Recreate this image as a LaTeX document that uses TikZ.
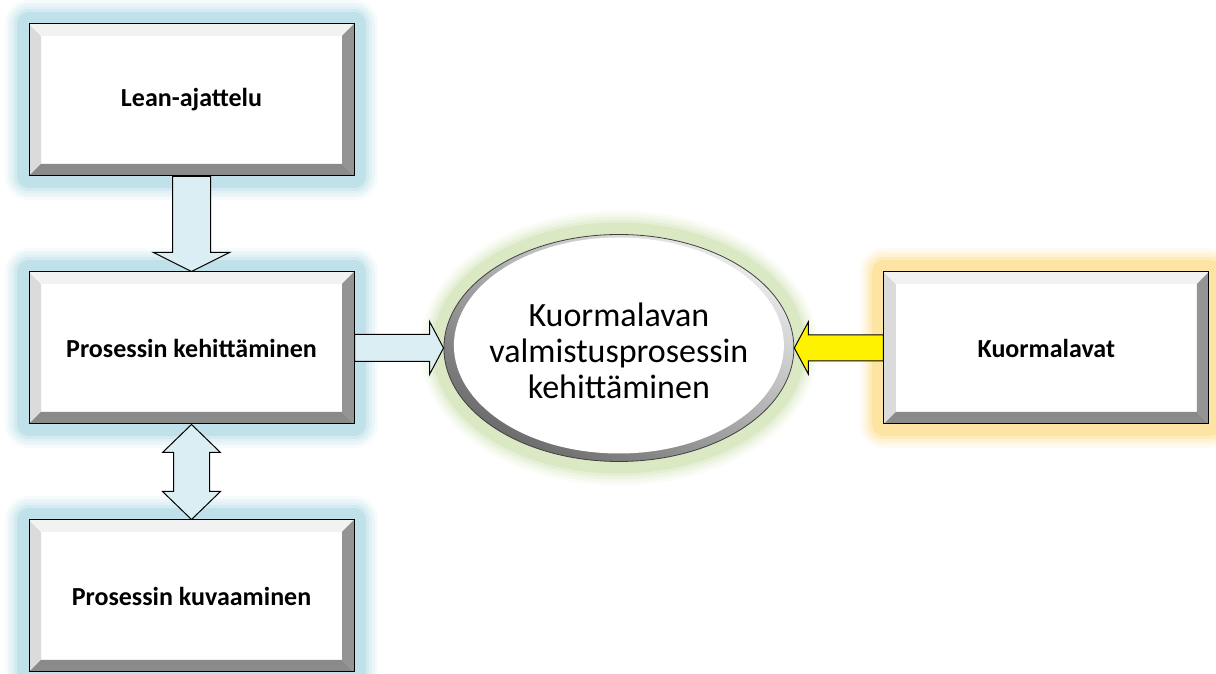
\documentclass[tikz,border=0pt]{standalone}
\usepackage{fontspec}
\setmainfont{Carlito}
\usetikzlibrary{positioning, shapes.geometric}

\definecolor{glowblue}{HTML}{B4DBE6}
\definecolor{glowgold}{HTML}{FDDF90}
\definecolor{glowgreen}{HTML}{D3E4B8}
\definecolor{arrowblue}{HTML}{DAEEF3}

\tikzstyle{glow} = [preaction={draw=#1, line width=48pt, opacity=.12, line join=round},
  preaction={draw=#1, line width=42pt, opacity=.15, line join=round},
  preaction={draw=#1, line width=36pt, opacity=.2, line join=round},
  preaction={draw=#1, line width=30pt, opacity=.3, line join=round},
  preaction={draw=#1, line width=24pt, opacity=.6, line join=round}]
\tikzstyle{bevel} = [rectangle, draw=black, fill=white, line width=1pt, minimum width=325pt, minimum height=152pt,
  font=\fontsize{26}{31}\selectfont\bfseries,
  path picture={
    \fill[black!14] (path picture bounding box.south west) -- (path picture bounding box.north west) -- ++(12pt,-12pt) -- ([shift={(12pt,12pt)}]path picture bounding box.south west) -- cycle;
    \fill[black!5] (path picture bounding box.north west) -- (path picture bounding box.north east) -- ++(-12pt,-12pt) -- ([shift={(12pt,-12pt)}]path picture bounding box.north west) -- cycle;
    \fill[black!42] (path picture bounding box.north east) -- (path picture bounding box.south east) -- ++(-12pt,12pt) -- ([shift={(-12pt,-12pt)}]path picture bounding box.north east) -- cycle;
    \fill[black!46] (path picture bounding box.south east) -- (path picture bounding box.south west) -- ++(12pt,12pt) -- ([shift={(-12pt,12pt)}]path picture bounding box.south east) -- cycle;
  }]
\tikzstyle{blockarrow} = [draw=black, line width=1pt, fill=arrowblue, line join=miter]

\begin{document}
\begin{tikzpicture}[x=1pt, y=1pt, node distance=95pt,
ring/.style={ellipse, draw=black!75, line width=.8pt, minimum width=350pt, minimum height=227pt, inner sep=0pt,
  top color=black!8, bottom color=black!58, shading angle=-30,
  path picture={\fill[white] ([yshift=2.5pt]path picture bounding box.center) ellipse [x radius=165pt, y radius=108pt];}},
ringtext/.style={align=center, font=\fontsize{34}{36}\selectfont}
]
\useasboundingbox (0,0) rectangle (1216,674);

\node (lean) [bevel, glow=glowblue] at (191.5,574) {Lean-ajattelu};
\node (kehit) [bevel, glow=glowblue, below=95pt of lean] {Prosessin kehittäminen};
\node (kuvaa) [bevel, glow=glowblue, below=95pt of kehit] {Prosessin kuvaaminen};
\node (tavoite) [ring, glow=glowgreen, right=89pt of kehit] {};
\node (tavoiteteksti) [ringtext] at ([yshift=-3pt]tavoite.center) {Kuormalavan\\valmistusprosessin\\kehittäminen};
\node (kuorma) [bevel, glow=glowgold, right=89pt of tavoite] {Kuormalavat};

% block arrows
\draw [blockarrow] ([xshift=-19pt]lean.south) -- ([xshift=-19pt,yshift=19pt]kehit.north) -- ([xshift=-38pt,yshift=19pt]kehit.north) -- (kehit.north) -- ([xshift=38pt,yshift=19pt]kehit.north) -- ([xshift=19pt,yshift=19pt]kehit.north) -- ([xshift=19pt]lean.south) -- cycle;
\draw [blockarrow] (kehit.south) -- ([xshift=29pt,yshift=-28pt]kehit.south) -- ([xshift=18pt,yshift=-28pt]kehit.south) -- ([xshift=18pt,yshift=28pt]kuvaa.north) -- ([xshift=29pt,yshift=28pt]kuvaa.north) -- (kuvaa.north) -- ([xshift=-29pt,yshift=28pt]kuvaa.north) -- ([xshift=-18pt,yshift=28pt]kuvaa.north) -- ([xshift=-18pt,yshift=-28pt]kehit.south) -- ([xshift=-29pt,yshift=-28pt]kehit.south) -- cycle;
\draw [blockarrow] ([yshift=13.5pt]kehit.east) -- ([xshift=-14pt,yshift=13.5pt]tavoite.west) -- ([xshift=-14pt,yshift=26.5pt]tavoite.west) -- (tavoite.west) -- ([xshift=-14pt,yshift=-26.5pt]tavoite.west) -- ([xshift=-14pt,yshift=-13.5pt]tavoite.west) -- ([yshift=-13.5pt]kehit.east) -- cycle;
\draw [blockarrow, fill=yellow] ([yshift=13pt]kuorma.west) -- ([xshift=14pt,yshift=13pt]tavoite.east) -- ([xshift=14pt,yshift=26pt]tavoite.east) -- (tavoite.east) -- ([xshift=14pt,yshift=-26pt]tavoite.east) -- ([xshift=14pt,yshift=-13pt]tavoite.east) -- ([yshift=-13pt]kuorma.west) -- cycle;
\end{tikzpicture}
\end{document}
